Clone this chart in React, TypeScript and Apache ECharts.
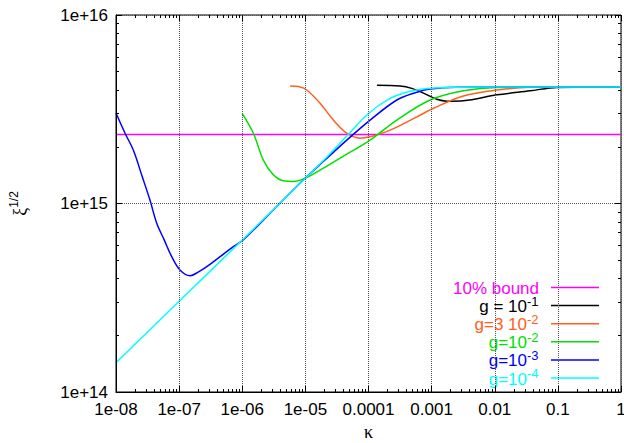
import React, { useEffect, useRef } from "react";
import * as echarts from "echarts";

// ---- data ----
const xTickLabels = ["1e-08", "1e-07", "1e-06", "1e-05", "0.0001", "0.001", "0.01", "0.1", "1"];
const yTickLabels = ["1e+14", "1e+15", "1e+16"];
const xDecades = [1e-8, 1e-7, 1e-6, 1e-5, 1e-4, 1e-3, 1e-2, 1e-1, 1];
const yDecades = [1e14, 1e15, 1e16];
const minorSteps = [2, 3, 4, 5, 6, 7, 8, 9];

const seriesNames = ["10% bound", "g = 10^-1", "g=3 10^-2", "g=10^-2", "g=10^-3", "g=10^-4"];
const legendBase = ["10% bound", "g = 10", "g=3 10", "g=10", "g=10", "g=10"];
const legendSup = ["", "-1", "-2", "-2", "-3", "-4"];
const seriesColors = ["#ff00ff", "#000000", "#ff6020", "#00e000", "#0000ff", "#00ffff"];

const kappaBound = [1e-8, 1];
const xiBound = [2.32e15, 2.32e15];

const kappaG1 = [1.36e-4, 3.17e-4, 4.85e-4, 7.41e-4, 1.21e-3, 1.74e-3, 3.19e-3, 1.08e-2, 3.64e-2, 9.64e-2, 1];
const xiG1 = [4.24e15, 4.2e15, 4.08e15, 3.85e15, 3.57e15, 3.49e15, 3.51e15, 3.77e15, 3.96e15, 4.13e15, 4.15e15];

const kappaG3e2 = [5.73e-6, 7.74e-6, 1.05e-5, 1.71e-5, 2.78e-5, 4.53e-5, 7.36e-5, 1.06e-4, 2.2e-4, 5.82e-4, 1.07e-3, 3.19e-3, 1.08e-2, 3.64e-2, 0.1, 1];
const xiG3e2 = [4.2e15, 4.17e15, 4.0e15, 3.4e15, 2.77e15, 2.36e15, 2.22e15, 2.26e15, 2.45e15, 2.88e15, 3.2e15, 3.72e15, 4.0e15, 4.14e15, 4.15e15, 4.15e15];

const kappaG2 = [1e-6, 1.5e-6, 2.16e-6, 3.11e-6, 4.48e-6, 6.46e-6, 9.89e-6, 1.93e-5, 3.55e-5, 1.06e-4, 2.81e-4, 9.46e-4, 3.19e-3, 1.08e-2, 0.1, 1];
const xiG2 = [3.0e15, 2.36e15, 1.7e15, 1.42e15, 1.32e15, 1.31e15, 1.36e15, 1.54e15, 1.74e15, 2.17e15, 2.77e15, 3.54e15, 3.96e15, 4.13e15, 4.15e15, 4.15e15];

const kappaG3 = [1e-8, 1.39e-8, 1.88e-8, 2.6e-8, 3.46e-8, 4.42e-8, 5.8e-8, 7.64e-8, 1.03e-7, 1.49e-7, 2.0e-7, 2.74e-7, 4.45e-7, 7.23e-7, 1.03e-6, 3.16e-6, 9.9e-6, 2.0e-5, 4.53e-5, 1.06e-4, 2.81e-4, 5.5e-4, 9.46e-4, 2.5e-3, 1e-2, 1e-1, 1];
const xiG3 = [3.02e15, 2.36e15, 1.92e15, 1.39e15, 1.04e15, 7.85e14, 6.41e14, 5.22e14, 4.44e14, 4.14e14, 4.32e14, 4.62e14, 5.22e14, 5.9e14, 6.4e14, 9.3e14, 1.36e15, 1.69e15, 2.17e15, 2.77e15, 3.54e15, 3.87e15, 4.05e15, 4.14e15, 4.15e15, 4.15e15, 4.15e15];

const kappaG4 = [1e-8, 1e-7, 1e-6, 1e-5, 2e-5, 4.53e-5, 1e-4, 2e-4, 3.98e-4, 7.94e-4, 1.58e-3, 1e-2, 1];
const xiG4 = [1.43e14, 3.03e14, 6.4e14, 1.36e15, 1.71e15, 2.28e15, 3.0e15, 3.55e15, 3.89e15, 4.06e15, 4.13e15, 4.15e15, 4.15e15];

const seriesKappa = [kappaBound, kappaG1, kappaG3e2, kappaG2, kappaG3, kappaG4];
const seriesXi = [xiBound, xiG1, xiG3e2, xiG2, xiG3, xiG4];

const X_MIN = 1e-8;
const X_MAX = 1;
const Y_MIN = 1e14;
const Y_MAX = 1e16;

const SANS = "Liberation Sans";
const SERIF = "Liberation Serif";

function decadeIndex(v: number): number {
  return Math.round(Math.log10(v));
}

function minorValues(decades: number[]): number[] {
  const out: number[] = [];
  decades.forEach((d, i) => {
    if (i < decades.length - 1) minorSteps.forEach((m) => out.push(d * m));
  });
  return out;
}

export default function App() {
  const ref = useRef<HTMLDivElement>(null);

  useEffect(() => {
    if (!ref.current) return;
    const chart = echarts.init(ref.current, undefined, { renderer: "svg" });

    const xMinor = minorValues(xDecades);
    const yMinor = minorValues(yDecades);

    const lineSeries = seriesNames.map((name, i) => ({
      name,
      type: "line",
      xAxisIndex: 0,
      yAxisIndex: 0,
      data: seriesKappa[i].map((k, j) => [k, seriesXi[i][j]]),
      symbol: "none",
      smooth: 0.35,
      lineStyle: { color: seriesColors[i], width: 1.5 },
      itemStyle: { color: seriesColors[i] },
      z: 2,
    }));

    // tick-only axes (gnuplot draws log minor ticks and mirrored ticks on all sides)
    const tickAxis = (kind: "x" | "y", position: string, values: number[], len: number) => ({
      type: "log",
      logBase: 10,
      min: kind === "x" ? X_MIN : Y_MIN,
      max: kind === "x" ? X_MAX : Y_MAX,
      position,
      axisLine: { show: false, onZero: false },
      axisLabel: { show: false },
      splitLine: { show: false },
      axisTick: { show: true, inside: true, length: len, customValues: values, lineStyle: { color: "#000", width: 1 } },
      z: 10,
    });

    // gnuplot-style key: opaque box, right aligned text + line sample
    const rowY0 = 287.5;
    const rowStep = 18.1;
    const textRight = 539;
    const supWidth = 12;
    const legendElements: any[] = [
      { type: "rect", shape: { x: 410, y: 278, width: 208, height: 108 }, style: { fill: "#fff" }, z: 3 },
    ];
    seriesNames.forEach((name, i) => {
      const y = rowY0 + i * rowStep;
      const hasSup = legendSup[i] !== "";
      legendElements.push({
        type: "text", z: 4,
        x: hasSup ? textRight - supWidth : textRight, y: y + 1,
        style: { text: legendBase[i], fill: seriesColors[i], align: "right", verticalAlign: "middle", fontSize: 17, lineHeight: 15, fontFamily: SANS },
      });
      if (hasSup) {
        legendElements.push({
          type: "text", z: 4,
          x: textRight - supWidth, y: y - 4.5,
          style: { text: legendSup[i], fill: seriesColors[i], align: "left", verticalAlign: "middle", fontSize: 13, lineHeight: 10, fontFamily: SANS },
        });
      }
      legendElements.push({
        type: "line", z: 4,
        shape: { x1: 551, y1: y, x2: 599, y2: y },
        style: { stroke: seriesColors[i], lineWidth: 1.5 },
      });
    });

    const option: any = {
      animation: false,
      backgroundColor: "#fff",
      textStyle: { fontFamily: SANS },
      grid: { left: 116, right: 3, top: 15, bottom: 51, show: true, borderColor: "#000", borderWidth: 1, containLabel: false, outerBoundsMode: "none" },
      xAxis: [
        {
          type: "log", logBase: 10, min: X_MIN, max: X_MAX, splitNumber: 8, position: "bottom",
          name: "κ", nameLocation: "middle", nameGap: 30,
          nameTextStyle: { fontFamily: SERIF, fontSize: 18, color: "#000" },
          axisLine: { show: true, onZero: false, lineStyle: { color: "#000", width: 1 } },
          axisTick: { show: true, inside: true, length: 6, customValues: xDecades, lineStyle: { color: "#000", width: 1 } },
          axisLabel: { color: "#000", fontSize: 17, fontFamily: SANS, margin: 9, showMinLabel: true, showMaxLabel: true,
            formatter: (v: number) => xTickLabels[decadeIndex(v) + 8] ?? "" },
          splitLine: { show: true, lineStyle: { type: "dotted", color: "#555", width: 1 } },
          z: 10,
        },
        tickAxis("x", "bottom", xMinor, 3),
        tickAxis("x", "top", xDecades, 6),
        tickAxis("x", "top", xMinor, 3),
      ],
      yAxis: [
        {
          type: "log", logBase: 10, min: Y_MIN, max: Y_MAX, splitNumber: 2, position: "left",
          name: "{a|ξ}{s|1/2}", nameLocation: "middle", nameRotate: 90, nameGap: 84,
          nameTextStyle: { color: "#000", rich: {
            a: { fontFamily: SERIF, fontSize: 18, color: "#000" },
            s: { fontFamily: SANS, fontSize: 12, color: "#000", padding: [0, 0, 12, 0] } } },
          axisLine: { show: true, onZero: false, lineStyle: { color: "#000", width: 1 } },
          axisTick: { show: true, inside: true, length: 6, customValues: yDecades, lineStyle: { color: "#000", width: 1 } },
          axisLabel: { color: "#000", fontSize: 17, fontFamily: SANS, margin: 8, showMinLabel: true, showMaxLabel: true,
            formatter: (v: number) => yTickLabels[decadeIndex(v) - 14] ?? "" },
          splitLine: { show: true, lineStyle: { type: "dotted", color: "#555", width: 1 } },
          z: 10,
        },
        tickAxis("y", "left", yMinor, 3),
        tickAxis("y", "right", yDecades, 6),
        tickAxis("y", "right", yMinor, 3),
      ],
      graphic: { elements: legendElements },
      series: lineSeries,
    };

    chart.setOption(option);
    return () => chart.dispose();
  }, []);

  return (
    <div
      ref={ref}
      style={{ position: "fixed", left: 0, top: 0, width: 624, height: 443, background: "#fff" }}
    />
  );
}
